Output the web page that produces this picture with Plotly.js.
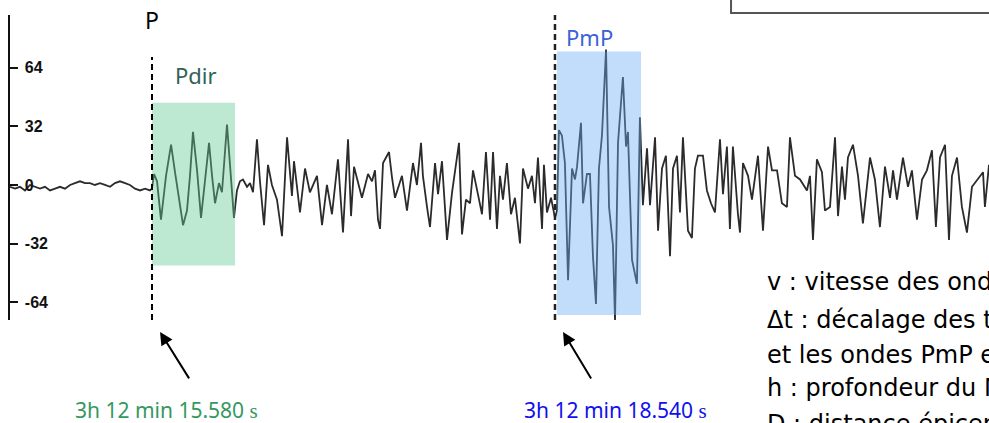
<!DOCTYPE html>
<html>
<head>
<meta charset="utf-8">
<script src="https://cdn.plot.ly/plotly-3.0.1.min.js"></script>
<style>html,body{margin:0;padding:0;background:#fff;}#chart{width:989px;height:423px;}</style>
</head>
<body>
<div id="chart"></div>
<script>
// Seismogram: time (s after 3h 12 min) and amplitude (counts)
const timeS = [
14.537,14.574,14.610,14.647,14.684,14.721,14.757,14.794,14.831,14.868,14.904,14.941,14.978,15.014,15.051,15.088,15.125,15.161,15.198,15.235,15.272,15.308,15.345,15.382,15.418,15.455,15.492,15.529,15.565,
15.580,15.595,15.617,15.646,15.683,15.720,15.749,15.778,15.808,15.837,15.859,15.881,15.911,15.940,15.969,15.999,16.021,16.043,16.072,16.094,16.131,16.153,16.182,
16.204,16.226,16.248,16.278,16.300,16.322,16.351,16.373,16.403,16.432,16.461,16.498,16.535,16.572,16.608,16.623,16.667,16.704,16.740,16.792,16.829,16.865,16.902,16.946,16.983,
17.020,17.042,17.064,17.122,17.167,17.196,17.218,17.240,17.255,17.277,17.321,17.343,17.365,17.416,17.453,17.497,17.526,17.556,17.570,17.600,17.622,17.659,17.681,17.710,17.725,17.747,17.784,17.806,17.835,17.857,17.886,17.916,17.938,17.974,18.004,18.033,18.063,18.085,18.114,18.136,18.158,18.187,18.217,18.246,18.283,18.305,18.342,18.371,18.393,18.415,18.445,18.459,18.481,18.511,18.540,
18.555,18.569,18.591,18.613,18.636,18.665,18.687,18.702,18.731,18.746,18.775,18.797,18.819,18.841,18.863,18.885,18.915,18.929,18.937,18.966,18.981,19.003,19.039,19.062,19.076,19.106,19.142,19.164,
19.186,19.216,19.238,19.275,19.297,19.326,19.355,19.385,19.407,19.436,19.458,19.480,19.517,19.546,19.568,19.590,19.627,19.656,19.686,19.715,19.752,19.774,19.803,19.825,19.847,19.884,19.899,19.921,19.958,19.987,20.031,20.068,20.105,20.134,20.171,20.207,20.244,20.266,20.303,20.340,20.391,20.413,20.435,20.464,20.501,20.523,20.560,20.597,20.619,20.648,20.670,20.692,20.729,20.766,20.802,20.854,20.890,20.927,20.964,21.001,21.023,21.052,21.096,21.133,21.162,21.199,21.236,21.272,21.309,21.338,21.368,21.405,21.434,21.456,21.493,21.529,21.566,21.603,21.647,21.684,21.698,21.728
];
const amplitude = [
-1,-2,-1,-3,0,-1,-2,-1,-3,-2,-1,-2,0,1,2,1,1,0,1,0,-1,1,2,1,0,-2,-3,-2,-3,
-2,6,2,-19,5,22,7,-8,-22,-14,5,29,8,-18,2,23,5,-10,1,-4,33,10,-18,
-3,2,3,-1,1,-4,25,2,-22,11,0,-8,-28,26,-6,13,-15,9,-4,5,-22,0,-16,14,-26,
25,-17,10,-7,6,2,8,-19,-24,12,18,4,-7,5,-14,12,0,23,5,-12,-23,12,-5,13,-3,-30,-4,7,23,-27,-8,-10,8,-5,-16,18,-19,18,-24,5,-8,12,-16,-7,-32,9,-2,5,-10,15,-24,11,-15,-7,-18,
-14,30,27,12,-52,9,3,10,34,-10,6,6,-39,-65,9,27,74,27,-12,-33,-74,23,59,21,29,-41,-54,37,
-11,20,-11,26,-25,9,16,-39,9,16,-15,26,-25,-29,9,16,16,-3,-10,-15,25,-5,21,-24,21,-16,-26,12,5,-8,16,-25,21,8,8,-10,-12,26,5,3,-3,5,-30,14,7,-14,-12,26,-17,10,-8,15,22,5,-21,15,3,-23,10,-7,8,-8,15,-1,8,-19,3,8,19,-23,15,22,-30,5,15,-12,-26,-1,3,7,-12,11
];
const tickVals = [-64,-32,0,32,64];
const tickText = ['-64','-32','0','32','64'];
const pdirWindow = {t0:15.580, t1:16.190, a0:-44, a1:45};
const pmpWindow = {t0:18.555, t1:19.172, a0:-71, a1:73};
const pArrival = 15.580, pmpArrival = 18.540;
const labelP = 'P', labelPdir = 'Pdir', labelPmP = 'PmP';
const timeP = '3h 12 min 15.580 <span style="font-family:\'Liberation Serif\'">s</span>';
const timePmP = '3h 12 min 18.540 <span style="font-family:\'Liberation Serif\'">s</span>';
const legendLines = ['v : vitesse des ondes P','Δt : décalage des temps d\'arrivée entre les ondes Pdir','et les ondes PmP en s','h : profondeur du Moho','D : distance épicentrale'];

const FONT = 'Noto Sans, DejaVu Sans, sans-serif';
const WIDE = 'DejaVu Sans, Noto Sans, sans-serif';
const trace = {
  x: timeS, y: amplitude, type: 'scatter', mode: 'lines',
  line: {color: '#2b2b2b', width: 1.8}, hoverinfo: 'skip', showlegend: false
};
const linePy = [0.1246, 0.0, -0.1148, -0.223, -0.342];
function label(text, x, xref, y, size, color, family) {
  return {text: text, x: x, xref: xref, y: y, yref: 'paper', xanchor: 'center', yanchor: 'middle',
          showarrow: false, font: {family: family || FONT, size: size, color: color}};
}
const annotations = [
  label(labelP, pArrival, 'x', 0.984, 23, '#000'),
  label(labelPdir, 15.903, 'x', 0.803, 22, '#2f6357'),
  label(labelPmP, 18.797, 'x', 0.928, 22, '#3b62d6'),
  label(timeP, 15.690, 'x', -0.295, 21, '#35985f'),
  label(timePmP, 18.988, 'x', -0.295, 21, '#1010ee'),
  {text: '', x: 15.639, xref: 'x', y: -0.039, yref: 'paper', showarrow: true, arrowhead: 2, arrowsize: 1.3, arrowwidth: 2, arrowcolor: '#000', ax: 30, ay: 48, axref: 'pixel', ayref: 'pixel'},
  {text: '', x: 18.599, xref: 'x', y: -0.039, yref: 'paper', showarrow: true, arrowhead: 2, arrowsize: 1.3, arrowwidth: 2, arrowcolor: '#000', ax: 29, ay: 48, axref: 'pixel', ayref: 'pixel'}
];
legendLines.forEach((s, i) => annotations.push({
  text: s, x: 0.771, xref: 'paper', y: linePy[i], yref: 'paper', xanchor: 'left', yanchor: 'middle',
  showarrow: false, font: {family: WIDE, size: 24, color: '#000'}
}));

const shapes = [
  {type: 'rect', xref: 'x', yref: 'y', x0: pdirWindow.t0, x1: pdirWindow.t1, y0: pdirWindow.a0, y1: pdirWindow.a1,
   fillcolor: 'rgba(98,200,146,0.42)', line: {width: 0}, layer: 'above'},
  {type: 'rect', xref: 'x', yref: 'y', x0: pmpWindow.t0, x1: pmpWindow.t1, y0: pmpWindow.a0, y1: pmpWindow.a1,
   fillcolor: 'rgba(110,175,245,0.42)', line: {width: 0}, layer: 'above'},
  {type: 'line', xref: 'x', yref: 'paper', x0: pArrival, x1: pArrival, y0: 0, y1: 0.862,
   line: {color: '#000', width: 2, dash: '6px,4px'}},
  {type: 'line', xref: 'x', yref: 'paper', x0: pmpArrival, x1: pmpArrival, y0: 0, y1: 1,
   line: {color: '#222', width: 2.5, dash: '6px,4px'}},
  {type: 'path', xref: 'paper', yref: 'paper', path: 'M 0.7365 1.2 L 0.7365 1.0066 L 1.05 1.0066',
   line: {color: '#555', width: 2}}
];

const layout = {
  width: 989, height: 423,
  margin: {l: 10, r: 0, t: 15, b: 103},
  paper_bgcolor: '#fff', plot_bgcolor: '#fff',
  xaxis: {range: [14.537, 21.728], visible: false, fixedrange: true},
  yaxis: {
    range: [-73.8, 92.9], tickvals: tickVals, ticktext: tickText,
    showgrid: false, zeroline: false, showline: true, linecolor: '#111', linewidth: 2,
    ticks: 'inside', ticklen: 8, tickwidth: 2, tickcolor: '#111',
    ticklabelposition: 'inside', ticklabelstandoff: 7,
    tickfont: {family: 'Liberation Sans Narrow, Liberation Sans, sans-serif', size: 16, color: '#111', weight: 'bold'}
  },
  showlegend: false,
  annotations: annotations,
  shapes: shapes
};
Plotly.newPlot('chart', [trace], layout, {displayModeBar: false, staticPlot: true});
</script>
</body>
</html>
